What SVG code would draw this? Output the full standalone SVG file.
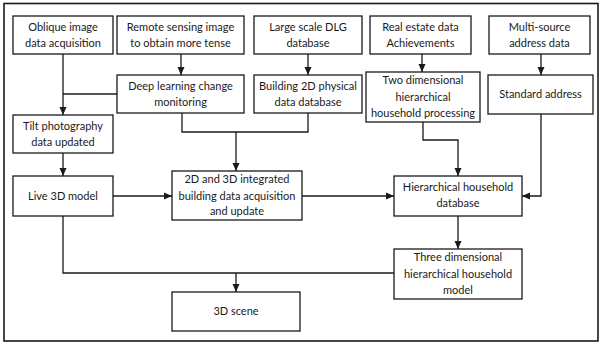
<svg xmlns="http://www.w3.org/2000/svg" width="603" height="345" viewBox="0 0 603 345">
<style>
.b{fill:#fff;stroke:#1a1a1a;stroke-width:1.3}
.t{font-family:Lato,"Open Sans",sans-serif;font-size:11px;fill:#1a1a1a;text-anchor:middle}
.c{fill:none;stroke:#1a1a1a;stroke-width:1.3}
</style>
<defs>
<marker id="a" markerUnits="userSpaceOnUse" markerWidth="8" markerHeight="8" refX="8" refY="4" orient="auto">
<path d="M0,0.5 L8,4 L0,7.5 z" fill="#1a1a1a"/>
</marker>
</defs>
<rect x="0" y="0" width="603" height="345" fill="#fff"/>
<rect x="4" y="3.5" width="594" height="337.5" fill="none" stroke="#1a1a1a" stroke-width="1.6"/>
<g id="connectors">
<path class="c" d="M63,54 V115" marker-end="url(#a)"/>
<path class="c" d="M117,94 H63"/>
<path class="c" d="M181,54 V75" marker-end="url(#a)"/>
<path class="c" d="M308,54 V75" marker-end="url(#a)"/>
<path class="c" d="M182,113 V132 H308 V113"/>
<path class="c" d="M236,132 V171" marker-end="url(#a)"/>
<path class="c" d="M63,153 V176" marker-end="url(#a)"/>
<path class="c" d="M113,196 H172" marker-end="url(#a)"/>
<path class="c" d="M302,196 H394" marker-end="url(#a)"/>
<path class="c" d="M422,54 V72" marker-end="url(#a)"/>
<path class="c" d="M423,122 V140 H458 V176" marker-end="url(#a)"/>
<path class="c" d="M541,54 V75" marker-end="url(#a)"/>
<path class="c" d="M541,114 V196 H522" marker-end="url(#a)"/>
<path class="c" d="M458,216 V249" marker-end="url(#a)"/>
<path class="c" d="M63,216 V273 H394"/>
<path class="c" d="M236,273 V292" marker-end="url(#a)"/>
</g>
<g id="oblique"><rect class="b" x="13" y="16" width="100" height="38"/><text class="t" x="63" y="31">Oblique image</text><text class="t" x="63" y="47">data acquisition</text></g>
<g id="remote"><rect class="b" x="117" y="16" width="127" height="38"/><text class="t" x="180.5" y="31">Remote sensing image</text><text class="t" x="180.5" y="47">to obtain more tense</text></g>
<g id="dlg"><rect class="b" x="254" y="16" width="108" height="38"/><text class="t" x="308" y="31">Large scale DLG</text><text class="t" x="308" y="47">database</text></g>
<g id="realestate"><rect class="b" x="370" y="16" width="101" height="38"/><text class="t" x="420.5" y="31">Real estate data</text><text class="t" x="420.5" y="47">Achievements</text></g>
<g id="multisource"><rect class="b" x="489" y="16" width="101" height="38"/><text class="t" x="539.5" y="31">Multi-source</text><text class="t" x="539.5" y="47">address data</text></g>
<g id="deeplearning"><rect class="b" x="117" y="75" width="127" height="38"/><text class="t" x="180.5" y="90">Deep learning change</text><text class="t" x="180.5" y="106">monitoring</text></g>
<g id="building2d"><rect class="b" x="254" y="75" width="108" height="38"/><text class="t" x="308" y="90">Building 2D physical</text><text class="t" x="308" y="106">data database</text></g>
<g id="twodim"><rect class="b" x="366" y="72" width="114" height="50"/><text class="t" x="423" y="84">Two dimensional</text><text class="t" x="423" y="101">hierarchical</text><text class="t" x="423" y="117">household processing</text></g>
<g id="standard"><rect class="b" x="488" y="75" width="105" height="39"/><text class="t" x="540.5" y="98">Standard address</text></g>
<g id="tilt"><rect class="b" x="13" y="115" width="100" height="38"/><text class="t" x="63" y="130">Tilt photography</text><text class="t" x="63" y="146">data updated</text></g>
<g id="live3d"><rect class="b" x="13" y="176" width="100" height="40"/><text class="t" x="63" y="200">Live 3D model</text></g>
<g id="integrated"><rect class="b" x="172" y="171" width="130" height="49"/><text class="t" x="237" y="183">2D and 3D integrated</text><text class="t" x="237" y="200">building data acquisition</text><text class="t" x="237" y="215">and update</text></g>
<g id="hierdb"><rect class="b" x="394" y="176" width="128" height="40"/><text class="t" x="458" y="191">Hierarchical household</text><text class="t" x="458" y="207">database</text></g>
<g id="threedim"><rect class="b" x="394" y="249" width="128" height="50"/><text class="t" x="458" y="261">Three dimensional</text><text class="t" x="458" y="278">hierarchical household</text><text class="t" x="458" y="294">model</text></g>
<g id="scene"><rect class="b" x="172" y="292" width="128" height="39"/><text class="t" x="236" y="315">3D scene</text></g>
</svg>
